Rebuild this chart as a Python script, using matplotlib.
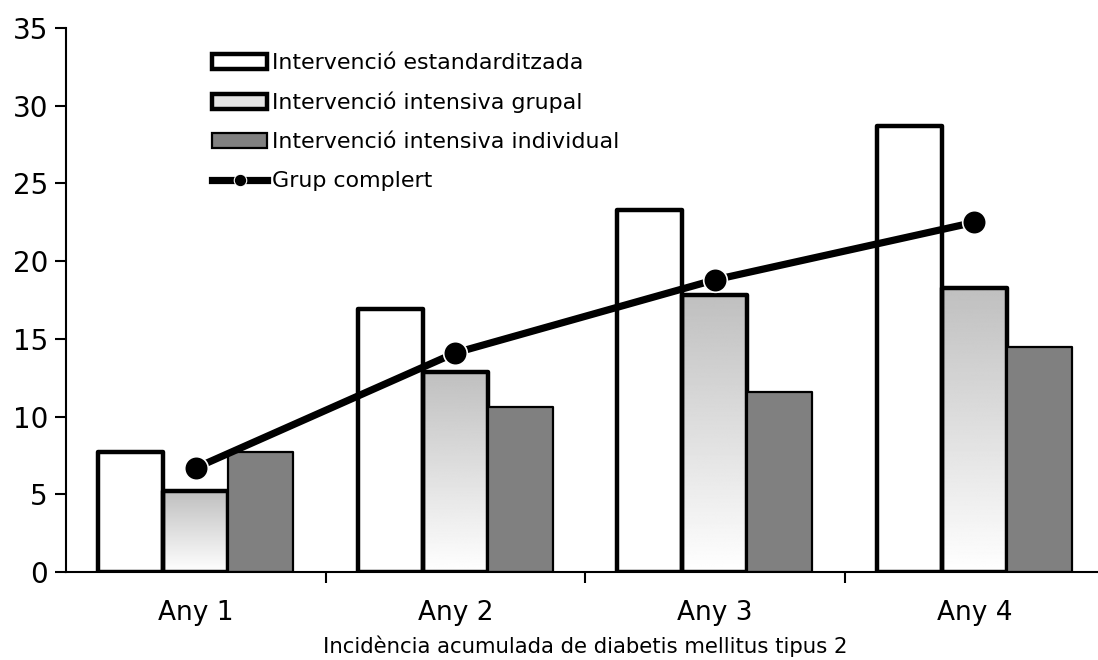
import numpy as np
import matplotlib
matplotlib.use("Agg")
import matplotlib.pyplot as plt
from matplotlib.patches import Patch
from matplotlib.lines import Line2D

years = ["Any 1", "Any 2", "Any 3", "Any 4"]
estandard = [7.7, 16.9, 23.3, 28.7]
grupal = [5.2, 12.9, 17.8, 18.3]
individual = [7.7, 10.6, 11.6, 14.5]
complert = [6.7, 14.1, 18.8, 22.5]

labels = ["Intervenció estandarditzada", "Intervenció intensiva grupal",
          "Intervenció intensiva individual", "Grup complert"]

plt.rcParams["font.family"] = ["DejaVu Sans"]

fig = plt.figure(figsize=(10.98, 6.6), dpi=100)
ax = fig.add_axes([0.0601, 0.1333, 0.9454, 0.8242])

x = np.arange(1, len(years) + 1)
w = 0.25

ax.bar(x - w, estandard, w, facecolor="white", edgecolor="black",
       linewidth=3.2, joinstyle="round", zorder=3)
grad_bars = ax.bar(x, grupal, w, facecolor="none", edgecolor="black",
                   linewidth=3.2, joinstyle="round", zorder=3)
ax.bar(x + w, individual, w, facecolor="#808080", edgecolor="black",
       linewidth=1.6, joinstyle="round", zorder=3)

# vertical grey-to-white fill inside the grupal bars
ramp = np.linspace(0.75, 1.0, 256).reshape(-1, 1)
for b in grad_bars:
    bx, by = b.get_x(), b.get_y()
    bw, bh = b.get_width(), b.get_height()
    im = ax.imshow(ramp, cmap="gray", vmin=0, vmax=1, aspect="auto",
                   extent=[bx, bx + bw, by, by + bh], origin="upper",
                   interpolation="bilinear", zorder=2)
    im.set_clip_path(b)

ax.plot(x, complert, color="black", linewidth=5.2, marker="o",
        markersize=17, markeredgecolor="white", markeredgewidth=1.2,
        zorder=5)

ax.set_xlim(0.5, 4.5)
ax.set_ylim(0, 35)
ax.set_yticks(range(0, 36, 5))
ax.set_xticks(x)
ax.set_xticklabels(years)
ax.set_xticks([1.5, 2.5, 3.5], minor=True)
ax.tick_params(axis="x", which="major", length=0, pad=20, labelsize=19)
ax.tick_params(axis="x", which="minor", length=8, width=1.5)
ax.tick_params(axis="y", length=8, width=1.5, labelsize=20, pad=5)
ax.set_xlabel("Incidència acumulada de diabetis mellitus tipus 2",
              fontsize=15.3, labelpad=7)

for side in ["top", "right"]:
    ax.spines[side].set_visible(False)
for side in ["left", "bottom"]:
    ax.spines[side].set_linewidth(1.5)
ax.spines["bottom"].set_zorder(6)

handles = [
    Patch(facecolor="white", edgecolor="black", linewidth=3.2),
    Patch(facecolor="#e4e4e4", edgecolor="black", linewidth=3.2),
    Patch(facecolor="#808080", edgecolor="black", linewidth=1.6),
    Line2D([0], [0], color="black", linewidth=5.2, marker="o",
           markersize=9, markeredgecolor="white", markeredgewidth=0.8),
]
ax.legend(handles, labels, loc="upper left",
          bbox_to_anchor=(212 / 1098, 1 - 53 / 660),
          bbox_transform=fig.transFigure, frameon=False, fontsize=15.9,
          handlelength=2.5, handleheight=0.65, handletextpad=0.2,
          labelspacing=0.86, borderaxespad=0, borderpad=0)

fig.savefig("out.png", dpi=100)
